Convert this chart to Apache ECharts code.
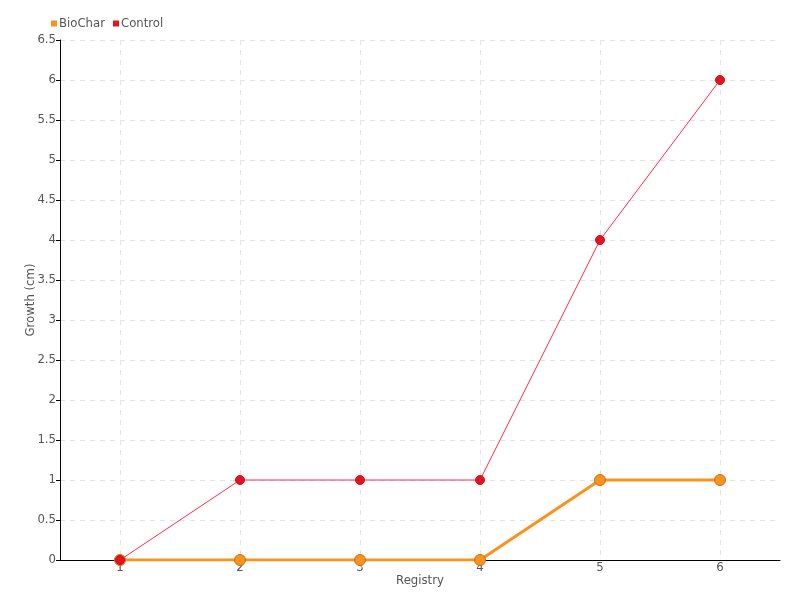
<!DOCTYPE html>
<html>
<head>
<meta charset="utf-8">
<script src="https://cdn.jsdelivr.net/npm/echarts@6/dist/echarts.min.js"></script>
<style>html,body{margin:0;padding:0;background:#fff}#c{width:800px;height:600px}</style>
</head>
<body>
<div id="c"></div>
<script>
const categories = ['1', '2', '3', '4', '5', '6'];
const bioChar = [0, 0, 0, 0, 1, 1];
const control = [0, 1, 1, 1, 4, 6];
const yTicks = { min: 0, max: 6.5, interval: 0.5 };

const FONT = "'DejaVu Sans Condensed', 'Liberation Sans Narrow', sans-serif";
const chart = echarts.init(document.getElementById('c'));
chart.setOption({
  animation: false,
  textStyle: { fontFamily: FONT },
  legend: {
    left: 46, top: 12,
    itemWidth: 6, itemHeight: 6, itemGap: 8,
    icon: 'rect',
    itemStyle: { borderWidth: 0 },
    textStyle: { color: '#555', fontSize: 13, fontFamily: FONT, padding: [0, 0, 0, -3] },
    data: ['BioChar', 'Control']
  },
  grid: { left: 60, right: 20, top: 40, bottom: 40 },
  xAxis: {
    type: 'category',
    data: categories,
    boundaryGap: true,
    name: 'Registry',
    nameLocation: 'middle',
    nameGap: 14,
    nameMoveOverlap: false,
    nameTextStyle: { color: '#555', fontSize: 13, fontFamily: FONT },
    axisLine: { lineStyle: { color: '#000' } },
    axisTick: { alignWithLabel: true, length: 4, lineStyle: { color: '#000' } },
    axisLabel: { color: '#555', fontSize: 13, fontFamily: FONT, margin: 1 },
    splitLine: { show: true, alignWithLabel: true, lineStyle: { color: '#e3e3e3', type: [5, 5] } }
  },
  yAxis: {
    type: 'value',
    min: yTicks.min, max: yTicks.max, interval: yTicks.interval,
    name: 'Growth (cm)',
    nameLocation: 'middle',
    nameGap: 23,
    nameMoveOverlap: false,
    nameTextStyle: { color: '#555', fontSize: 13, fontFamily: FONT },
    axisLine: { show: true, lineStyle: { color: '#000' } },
    axisTick: { show: true, length: 4, lineStyle: { color: '#000' } },
    axisLabel: { color: '#555', fontSize: 13, fontFamily: FONT, margin: 4 },
    splitLine: { show: true, lineStyle: { color: '#e3e3e3', type: [5, 5] } }
  },
  series: [
    {
      name: 'BioChar', type: 'line', data: bioChar,
      symbol: 'circle', symbolSize: 11,
      itemStyle: { color: '#f7931e', borderColor: '#c8700f', borderWidth: 1 },
      lineStyle: { color: '#f7931e', width: 3 }
    },
    {
      name: 'Control', type: 'line', data: control,
      symbol: 'circle', symbolSize: 9,
      itemStyle: { color: '#e8121f', borderColor: '#c8101a', borderWidth: 1 },
      lineStyle: { color: '#ff2a44', width: 1 }
    }
  ]
});
</script>
</body>
</html>
